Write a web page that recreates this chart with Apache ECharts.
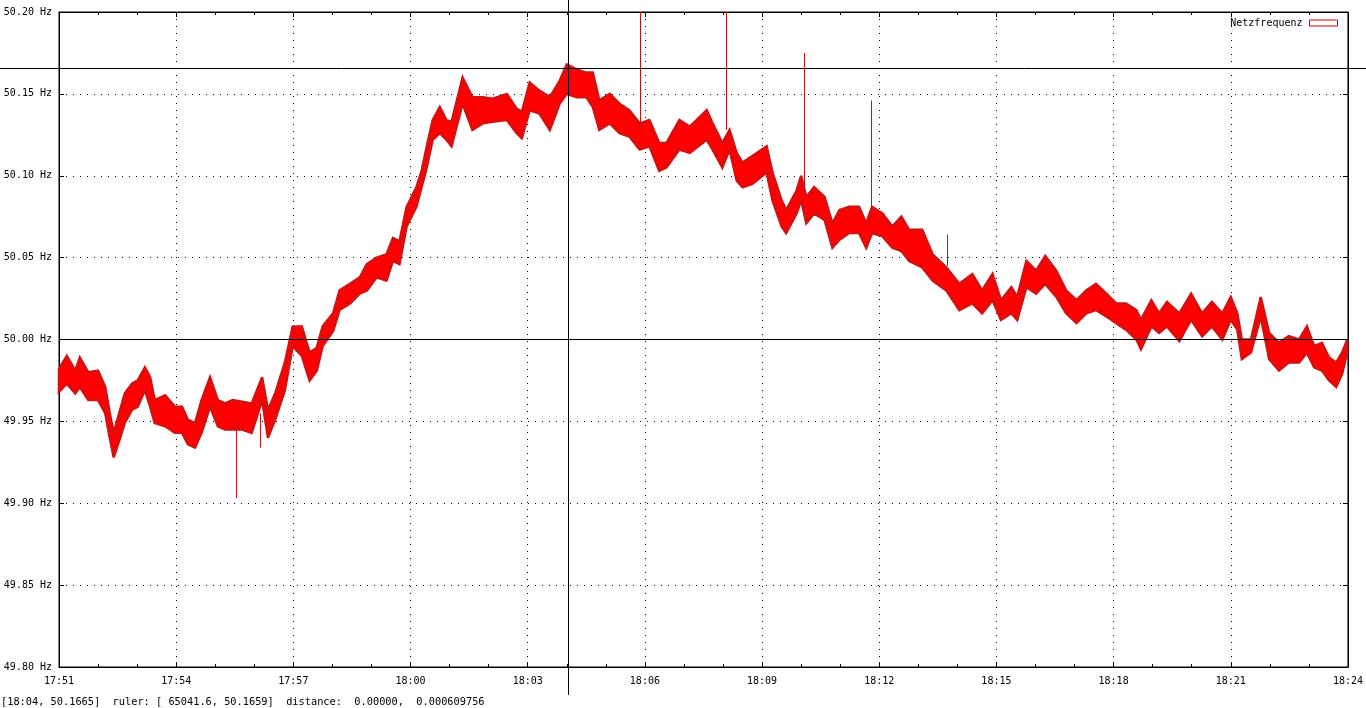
<!DOCTYPE html>
<html>
<head>
<meta charset="utf-8">
<script src="https://cdn.jsdelivr.net/npm/echarts@6/dist/echarts.min.js"></script>
<style>
html,body{margin:0;padding:0;background:#fff;}
#chart{width:1366px;height:708px;}
</style>
</head>
<body>
<div id="chart"></div>
<script>
// ---- data ----
const seriesName = 'Netzfrequenz';
const times = [
'17:51:00','17:51:12','17:51:25','17:51:32','17:51:45','17:52:00','17:52:11','17:52:18','17:52:24','17:52:34',
'17:52:41','17:52:52','17:53:01','17:53:12','17:53:20','17:53:27','17:53:43','17:53:58','17:54:09','17:54:18',
'17:54:29','17:54:39','17:54:52','17:55:04','17:55:15','17:55:27','17:55:41','17:55:56','17:56:12','17:56:21',
'17:56:32','17:56:47','17:56:59','17:57:13','17:57:25','17:57:36','17:57:45','17:58:01','17:58:11','17:58:27',
'17:58:42','17:58:53','17:59:08','17:59:23','17:59:33','17:59:43','17:59:54','18:00:09','18:00:17','18:00:25',
'18:00:34','18:00:45','18:00:55','18:01:03','18:01:20','18:01:35','18:01:51','18:02:06','18:02:28','18:02:43',
'18:02:51','18:03:03','18:03:18','18:03:34','18:03:49','18:04:00','18:04:15','18:04:30','18:04:40','18:04:50',
'18:05:06','18:05:21','18:05:36','18:05:52','18:06:07','18:06:22','18:06:33','18:06:53','18:07:09','18:07:35',
'18:07:44','18:07:59','18:08:10','18:08:21','18:08:30','18:08:45','18:09:07','18:09:16','18:09:30','18:09:37',
'18:09:53','18:10:00','18:10:08','18:10:20','18:10:36','18:10:48','18:10:59','18:11:14','18:11:29','18:11:40',
'18:11:49','18:12:05','18:12:20','18:12:34','18:12:46','18:13:06','18:13:22','18:13:43','18:14:03','18:14:23',
'18:14:38','18:14:54','18:15:07','18:15:23','18:15:32','18:15:46','18:16:01','18:16:15','18:16:32','18:16:47',
'18:17:03','18:17:18','18:17:33','18:17:49','18:18:04','18:18:19','18:18:35','18:18:42','18:18:58','18:19:10',
'18:19:22','18:19:41','18:19:59','18:20:16','18:20:31','18:20:47','18:21:00','18:21:10','18:21:17','18:21:31',
'18:21:46','18:21:59','18:22:14','18:22:29','18:22:45','18:22:57','18:23:08','18:23:20','18:23:31','18:23:42',
'18:23:51','18:23:59'
];
const upper = [
49.982,49.990,49.981,49.989,49.980,49.981,49.971,49.955,49.943,49.957,
49.967,49.973,49.975,49.983,49.977,49.963,49.966,49.959,49.959,49.951,
49.949,49.963,49.977,49.963,49.961,49.963,49.962,49.961,49.977,49.957,
49.967,49.986,50.008,50.008,49.992,49.995,50.008,50.016,50.030,50.034,
50.038,50.046,50.050,50.052,50.062,50.060,50.081,50.093,50.103,50.118,
50.134,50.142,50.134,50.133,50.160,50.148,50.148,50.147,50.150,50.141,
50.139,50.157,50.152,50.148,50.158,50.168,50.165,50.163,50.163,50.146,
50.150,50.144,50.140,50.132,50.134,50.120,50.120,50.134,50.130,50.140,
50.132,50.120,50.128,50.114,50.108,50.112,50.118,50.102,50.085,50.079,
50.091,50.100,50.087,50.093,50.087,50.071,50.079,50.081,50.081,50.071,
50.081,50.077,50.069,50.075,50.067,50.067,50.052,50.044,50.034,50.040,
50.030,50.040,50.024,50.032,50.026,50.048,50.042,50.051,50.042,50.030,
50.024,50.030,50.034,50.028,50.022,50.022,50.018,50.012,50.024,50.016,
50.023,50.016,50.028,50.016,50.023,50.016,50.026,50.016,50.000,50.000,
50.026,50.004,49.998,50.002,50.000,50.008,49.996,49.998,49.989,49.986,
49.992,50.000
];
const lower = [
49.968,49.973,49.967,49.971,49.963,49.963,49.955,49.940,49.928,49.940,
49.949,49.957,49.959,49.969,49.959,49.949,49.947,49.943,49.943,49.936,
49.934,49.943,49.959,49.947,49.945,49.945,49.945,49.943,49.963,49.940,
49.951,49.969,49.996,49.990,49.975,49.981,49.996,50.005,50.018,50.022,
50.028,50.030,50.038,50.036,50.048,50.046,50.069,50.081,50.093,50.105,
50.122,50.126,50.122,50.118,50.144,50.128,50.132,50.133,50.134,50.126,
50.123,50.140,50.138,50.128,50.144,50.150,50.148,50.148,50.142,50.128,
50.132,50.126,50.124,50.116,50.118,50.103,50.105,50.116,50.114,50.122,
50.116,50.105,50.116,50.097,50.093,50.095,50.102,50.085,50.069,50.065,
50.077,50.085,50.071,50.077,50.073,50.056,50.061,50.065,50.065,50.056,
50.065,50.063,50.056,50.054,50.048,50.044,50.036,50.030,50.018,50.022,
50.016,50.024,50.012,50.016,50.012,50.032,50.028,50.034,50.026,50.016,
50.010,50.016,50.018,50.014,50.010,50.006,50.000,49.994,50.008,50.004,
50.008,49.999,50.012,50.002,50.008,50.000,50.012,50.006,49.988,49.992,
50.014,49.988,49.981,49.986,49.986,49.992,49.983,49.981,49.975,49.971,
49.979,49.992
];
// single-sample spikes
const spikeTimes = ['17:55:32','17:56:09','18:05:53','18:08:05','18:10:04','18:11:48','18:13:44'];
const spikeBase  = [49.950, 49.955, 50.130, 50.128, 50.090, 50.078, 50.045];
const spikePeak  = [49.903, 49.934, 50.260, 50.260, 50.175, 50.146, 50.064];
// ruler / status
const rulerX = 65041.6;      // seconds since midnight
const rulerY = 50.1659;
const referenceLine = 50.00;
const statusText = '[18:04, 50.1665]  ruler: [ 65041.6, 50.1659]  distance:  0.00000,  0.000609756';
const xMin = '17:51:00', xMax = '18:24:00';
const yMin = 49.80, yMax = 50.20, yStep = 0.05;

// ---- helpers ----
function toSec(s){ const p = s.split(':').map(Number); return p[0]*3600 + p[1]*60 + (p[2]||0); }
function pad(n){ return (n<10?'0':'') + n; }
function fmtTime(v){ const h = Math.floor(v/3600), m = Math.round((v - h*3600)/60); return pad(h)+':'+pad(m); }

const FONT = 'DejaVu Sans Mono';
const bandData = times.map((t,i)=>[toSec(t), upper[i], lower[i]]);
const spikeData = spikeTimes.map((t,i)=>[toSec(t), spikeBase[i], spikePeak[i]]);

const chart = echarts.init(document.getElementById('chart'), null, {renderer:'canvas'});

const tickCommon = {show:true, inside:true, length:5, lineStyle:{color:'#000', width:1}};
const minorCommon = {show:true, splitNumber:3, length:3, lineStyle:{color:'#000', width:1}};
const axisLineCommon = {show:true, onZero:false, lineStyle:{color:'#000', width:1}};
const gridDots = {show:true, lineStyle:{color:'#000', width:1, type:[1,6]}};

const option = {
  animation:false,
  backgroundColor:'#fff',
  textStyle:{fontFamily:FONT},
  grid:{left:59, right:17, top:12, bottom:41, show:true, borderColor:'#000', borderWidth:1, backgroundColor:'transparent'},
  legend:{
    show:true, right:28, top:18, padding:0, align:'right', itemWidth:28, itemHeight:6,
    textStyle:{fontFamily:FONT, fontSize:10, color:'#000', padding:[0,2,0,0]},
    data:[{name:seriesName, icon:'rect', itemStyle:{color:'#fff', borderColor:'#cc0000', borderWidth:1}}]
  },
  xAxis:[
    {type:'value', position:'bottom', min:toSec(xMin), max:toSec(xMax), interval:180,
     axisLine:axisLineCommon, axisTick:tickCommon, minorTick:minorCommon, splitLine:gridDots,
     axisLabel:{show:true, color:'#000', fontFamily:FONT, fontSize:10, margin:9, formatter:fmtTime}},
    {type:'value', position:'top', min:toSec(xMin), max:toSec(xMax), interval:180,
     axisLine:axisLineCommon, axisTick:tickCommon, minorTick:minorCommon, splitLine:{show:false},
     axisLabel:{show:false}}
  ],
  yAxis:[
    {type:'value', position:'left', min:yMin, max:yMax, interval:yStep,
     axisLine:axisLineCommon, axisTick:tickCommon, splitLine:gridDots,
     axisLabel:{show:true, color:'#000', fontFamily:FONT, fontSize:10, margin:7,
       formatter:v=>v.toFixed(2)+' Hz'}},
    {type:'value', position:'right', min:yMin, max:yMax, interval:yStep,
     axisLine:axisLineCommon, axisTick:tickCommon, splitLine:{show:false}, axisLabel:{show:false}}
  ],
  series:[
    {
      name:seriesName, type:'custom', xAxisIndex:0, yAxisIndex:0,
      data:bandData, encode:{x:0, y:[1,2]},
      renderItem:function(params, api){
        if (params.dataIndex !== 0) return null;
        const pts = [];
        for (let i=0;i<bandData.length;i++) pts.push(api.coord([bandData[i][0], bandData[i][1]]));
        for (let i=bandData.length-1;i>=0;i--) pts.push(api.coord([bandData[i][0], bandData[i][2]]));
        return {type:'polygon', shape:{points:pts}, style:{fill:'#ff0000', stroke:'#d41010', lineWidth:2.5, lineJoin:'miter', miterLimit:3}};
      },
      markLine:{silent:true, symbol:'none', label:{show:false},
        lineStyle:{color:'#000', width:1, type:'solid'},
        data:[{yAxis:referenceLine}]},
      z:3
    },
    {
      name:'spikes', type:'custom', xAxisIndex:0, yAxisIndex:0, clip:true,
      data:spikeData, encode:{x:0, y:[1,2]},
      renderItem:function(params, api){
        const a = api.coord([api.value(0), api.value(1)]);
        const b = api.coord([api.value(0), api.value(2)]);
        const cs = params.coordSys;
        const top = cs.y, bot = cs.y + cs.height;
        const x = Math.round(a[0]) + 0.5;
        const y1 = Math.min(Math.max(a[1], top), bot);
        const y2 = Math.min(Math.max(b[1], top), bot);
        return {type:'line', shape:{x1:x, y1:y1, x2:x, y2:y2}, style:{stroke:'#c01010', lineWidth:1}};
      },
      z:4
    }
  ]
};
chart.setOption(option);

// ruler crosshair + status line, positioned with the chart's own scales
const rx = Math.round(chart.convertToPixel({xAxisIndex:0}, rulerX)) + 0.5;
const ry = Math.round(chart.convertToPixel({yAxisIndex:0}, rulerY)) + 0.5;
chart.setOption({
  graphic:[
    {type:'line', z:100, shape:{x1:rx, y1:0, x2:rx, y2:695}, style:{stroke:'#000', lineWidth:1}},
    {type:'line', z:100, shape:{x1:0, y1:ry, x2:1366, y2:ry}, style:{stroke:'#000', lineWidth:1}},
    {type:'text', z:100, left:1, top:697, style:{text:statusText, fill:'#000', font:'10.3px "DejaVu Sans Mono"'}}
  ]
});
</script>
</body>
</html>
